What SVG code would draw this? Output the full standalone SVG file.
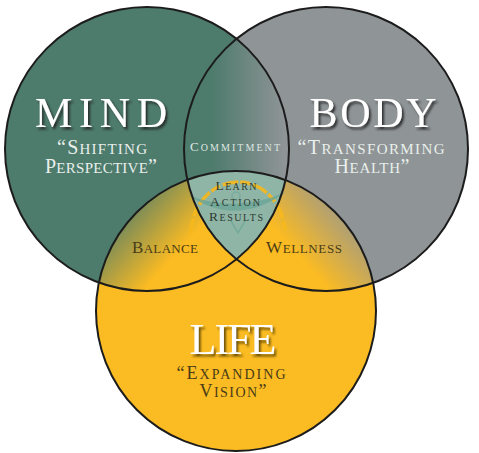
<svg xmlns="http://www.w3.org/2000/svg" width="479" height="453" viewBox="0 0 479 453">
<style>
.t{font-family:"Liberation Serif","DejaVu Serif",serif;text-anchor:middle}
.title{fill:#ffffff;filter:url(#sh)}
.light{fill:#e9efeb}
.dark{fill:#4a3c16}
.ctr{fill:#2d3a2f}
.edge{fill:none;stroke:#1c1c1c;stroke-width:2}
</style>
<defs>
<filter id="sh" x="-10%" y="-10%" width="125%" height="125%">
<feDropShadow dx="2" dy="2.5" stdDeviation="1.3" flood-color="#1a2420" flood-opacity="0.85"/>
</filter>
<filter id="shL" x="-10%" y="-10%" width="125%" height="125%">
<feDropShadow dx="2" dy="2.5" stdDeviation="1.3" flood-color="#5a4205" flood-opacity="0.9"/>
</filter>
<clipPath id="cMind"><circle cx="147" cy="149" r="142"/></clipPath>
<clipPath id="cBody"><circle cx="326" cy="149" r="142"/></clipPath>
<linearGradient id="gCommit" gradientUnits="userSpaceOnUse" x1="212" y1="0" x2="285" y2="0">
<stop offset="0" stop-color="#4d7b6c"/><stop offset="1" stop-color="#8f9497"/>
</linearGradient>
<linearGradient id="gBal" gradientUnits="userSpaceOnUse" x1="118" y1="198" x2="178" y2="252">
<stop offset="0" stop-color="#4d7b6c"/><stop offset="1" stop-color="#fbbb22"/>
</linearGradient>
<linearGradient id="gWel" gradientUnits="userSpaceOnUse" x1="355" y1="198" x2="295" y2="252">
<stop offset="0" stop-color="#8f9497"/><stop offset="1" stop-color="#fbbb22"/>
</linearGradient>
</defs>
<rect width="479" height="453" fill="#ffffff"/>

<g id="mind">
<circle cx="147" cy="149" r="142" fill="#4d7b6c"/>
</g>
<g id="body">
<circle cx="326" cy="149" r="142" fill="#8f9497"/>
</g>
<g id="life">
<circle cx="236" cy="311" r="140" fill="#fbbb22"/>
</g>

<g id="commitment">
<g clip-path="url(#cMind)"><circle cx="326" cy="149" r="142" fill="url(#gCommit)"/></g>
</g>
<g id="balance">
<g clip-path="url(#cMind)"><circle cx="236" cy="311" r="140" fill="url(#gBal)"/></g>
</g>
<g id="wellness">
<g clip-path="url(#cBody)"><circle cx="236" cy="311" r="140" fill="url(#gWel)"/></g>
</g>
<g id="center">
<g clip-path="url(#cMind)"><g clip-path="url(#cBody)"><circle cx="236" cy="311" r="140" fill="#8fb5a6"/></g></g>
<path d="M191,234 A47,52 0 0 1 285,234" fill="none" stroke="#f6b81c" stroke-width="3.5" stroke-dasharray="16 2 10 3" opacity="0.9"/>
<path d="M188,195 Q236,228 286,192 Q236,214 188,195 Z" fill="#6aa597" opacity="0.8"/>
<circle cx="236" cy="196" r="4" fill="none" stroke="#6aa597" stroke-width="1.5" opacity="0.6"/>
<path d="M231,221 L238,233 L245,221" fill="none" stroke="#6aa597" stroke-width="1.5" opacity="0.7"/>
</g>

<g id="edges">
<circle class="edge" cx="147" cy="149" r="142"/>
<circle class="edge" cx="326" cy="149" r="142"/>
<circle class="edge" cx="236" cy="311" r="140"/>
</g>

<g id="labels">
<text class="t title" x="101" y="127" font-size="42" textLength="132">MIND</text>
<text class="t light" x="102" y="154" textLength="90"><tspan font-size="20">“S</tspan><tspan font-size="15">HIFTING</tspan></text>
<text class="t light" x="101" y="173" textLength="112"><tspan font-size="20">P</tspan><tspan font-size="15">ERSPECTIVE</tspan><tspan font-size="20">”</tspan></text>

<text class="t title" x="373" y="127" font-size="42" textLength="127">BODY</text>
<text class="t light" x="371" y="154" textLength="147"><tspan font-size="20">“T</tspan><tspan font-size="15">RANSFORMING</tspan></text>
<text class="t light" x="372" y="173" textLength="75"><tspan font-size="20">H</tspan><tspan font-size="15">EALTH</tspan><tspan font-size="20">”</tspan></text>

<text class="t" x="233" y="354" font-size="44" textLength="87" fill="#ffffff" filter="url(#shL)">LIFE</text>
<text class="t dark" x="231" y="379" textLength="109"><tspan font-size="18">“E</tspan><tspan font-size="14">XPANDING</tspan></text>
<text class="t dark" x="233" y="397" textLength="67"><tspan font-size="18">V</tspan><tspan font-size="14">ISION</tspan><tspan font-size="18">”</tspan></text>

<text class="t" x="235" y="151" textLength="90" fill="#dfe6e2"><tspan font-size="13">C</tspan><tspan font-size="10">OMMITMENT</tspan></text>

<text class="t ctr" x="236" y="190" textLength="41"><tspan font-size="13.5">L</tspan><tspan font-size="10">EARN</tspan></text>
<text class="t ctr" x="235" y="206" textLength="50"><tspan font-size="13.5">A</tspan><tspan font-size="10">CTION</tspan></text>
<text class="t ctr" x="236" y="221" textLength="54"><tspan font-size="13.5">R</tspan><tspan font-size="10">ESULTS</tspan></text>

<text class="t dark" x="165" y="253" textLength="66"><tspan font-size="17">B</tspan><tspan font-size="13">ALANCE</tspan></text>
<text class="t dark" x="304" y="253" textLength="76"><tspan font-size="17">W</tspan><tspan font-size="13">ELLNESS</tspan></text>
</g>
</svg>
